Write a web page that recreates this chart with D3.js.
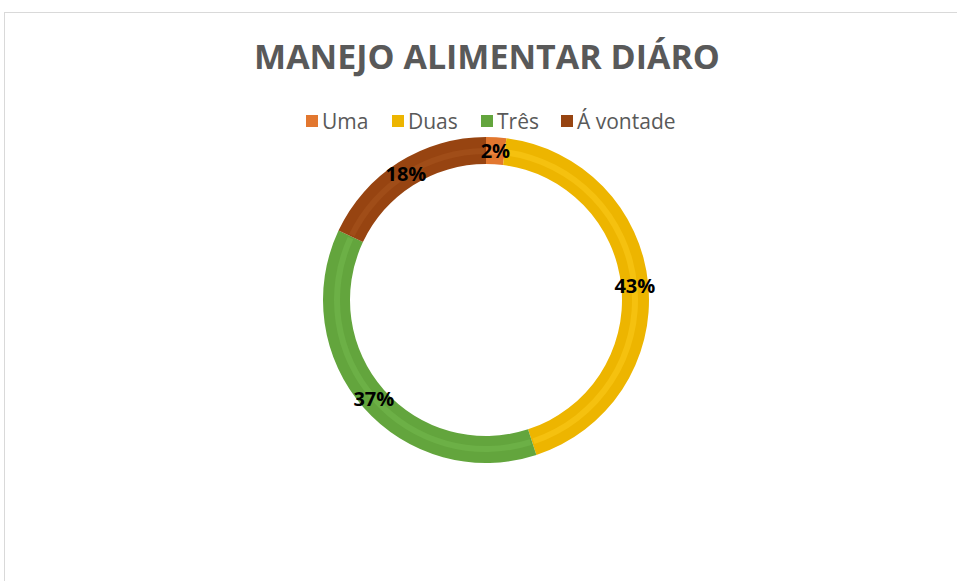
<!DOCTYPE html>
<html>
<head>
<meta charset="utf-8">
<script src="https://cdn.jsdelivr.net/npm/d3@7"></script>
<style>
  html, body { margin: 0; padding: 0; background: #fff; }
  svg { display: block; }
</style>
</head>
<body>
<svg id="chart" width="957" height="581"></svg>
<script>
const title = "MANEJO ALIMENTAR DIÁRO";
const categories = ["Uma", "Duas", "Três", "Á vontade"];
const values = [2, 43, 37, 18];
const colors = ["#E2772F", "#EDB500", "#63A53D", "#974411"];
const highlights = ["#EA8540", "#F5C10F", "#6CB046", "#A04D18"];

const W = 957, H = 581;
const svg = d3.select("#chart");

// chart frame
svg.append("rect")
  .attr("x", 4.5).attr("y", 12.5)
  .attr("width", W + 10).attr("height", H + 10)
  .attr("fill", "#fff").attr("stroke", "#d9d9d9").attr("stroke-width", 1);

// title
svg.append("text")
  .attr("x", 487).attr("y", 69)
  .attr("text-anchor", "middle")
  .attr("font-family", "'Open Sans', 'Noto Sans', sans-serif")
  .attr("font-weight", "bold")
  .attr("font-size", 34)
  .attr("fill", "#595959")
  .text(title);

// legend
const legendX = [306, 392, 481, 561];
const lg = svg.append("g");
categories.forEach((c, i) => {
  const g = lg.append("g").attr("transform", `translate(${legendX[i]},0)`);
  g.append("rect").attr("x", 0).attr("y", 115).attr("width", 12).attr("height", 12).attr("fill", colors[i]);
  g.append("text").attr("x", 16).attr("y", 129)
    .attr("font-family", "'Open Sans', 'Noto Sans', sans-serif")
    .attr("font-size", 21)
    .attr("fill", "#595959")
    .text(c);
});

// donut
const cx = 486, cy = 300, rOuter = 163, rInner = 136;
const pie = d3.pie().sort(null).value(d => d)(values);
const arc = d3.arc().innerRadius(rInner).outerRadius(rOuter);
const arcHi = d3.arc().innerRadius(rInner + 10).outerRadius(rOuter - 11);
const arcLabel = d3.arc().innerRadius(149.5).outerRadius(149.5);

const g = svg.append("g").attr("transform", `translate(${cx},${cy})`);
g.selectAll("path.seg").data(pie).enter().append("path")
  .attr("class", "seg")
  .attr("d", arc)
  .attr("fill", (d, i) => colors[i]);
g.selectAll("path.hi").data(pie).enter().append("path")
  .attr("class", "hi")
  .attr("d", d => arcHi({startAngle: d.startAngle + 0.01, endAngle: d.endAngle - 0.01}))
  .attr("fill", (d, i) => highlights[i]);

g.selectAll("text.lbl").data(pie).enter().append("text")
  .attr("class", "lbl")
  .attr("transform", d => `translate(${arcLabel.centroid(d)})`)
  .attr("text-anchor", "middle")
  .attr("dy", "0.35em")
  .attr("font-family", "'Open Sans', 'Noto Sans', sans-serif")
  .attr("font-weight", "bold")
  .attr("font-size", 20)
  .attr("fill", "#000")
  .text((d, i) => values[i] + "%");
</script>
</body>
</html>
